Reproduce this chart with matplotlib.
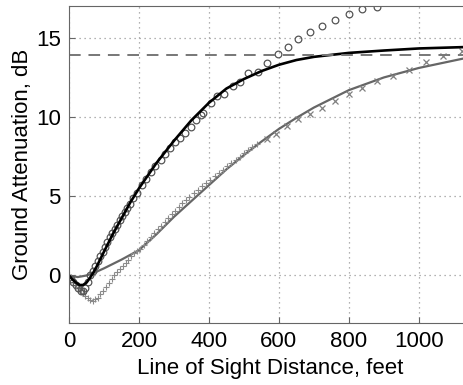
import numpy as np
import matplotlib
matplotlib.use('Agg')
import matplotlib.pyplot as plt

plt.rcParams['font.family'] = ['Liberation Sans', 'DejaVu Sans']

# measured data, circles (upper set)
circ_x = [5, 12, 19, 26, 33, 40, 47, 54, 61, 68, 75, 82, 89, 96, 103, 110,
          117, 124, 131, 138, 145, 152, 159, 166, 173, 184, 195, 210, 220,
          233, 247, 262, 275, 289, 303, 317, 331, 348, 363, 376, 384, 405,
          422, 443, 469, 490, 512, 540, 565, 597, 627, 656, 690, 723, 761,
          800, 838, 880]
circ_y = [-0.2, -0.4, -0.6, -0.8, -0.95, -1.0, -0.8, -0.4, 0.0, 0.3, 0.6,
          0.9, 1.2, 1.5, 1.8, 2.1, 2.4, 2.7, 2.95, 3.2, 3.5, 3.75, 4.0, 4.25,
          4.5, 4.92, 5.18, 5.73, 6.09, 6.52, 6.88, 7.3, 7.64, 8.07, 8.41, 8.7,
          9.0, 9.38, 9.8, 10.1, 10.27, 10.9, 11.3, 11.46, 11.97, 12.2, 12.8,
          12.85, 13.4, 13.95, 14.44, 14.9, 15.39, 15.77, 16.13, 16.5, 16.8,
          16.95]

# measured data, lower set (dense '+' then sparse 'x')
plus_x = [5, 12, 19, 26, 33, 40, 47, 54, 61, 68, 75, 82, 90, 98, 106, 114,
          122, 130, 138, 146, 154, 162, 170, 178, 186, 194, 204, 214, 224,
          234, 244, 254, 264, 274, 284, 294, 304, 314, 324, 334, 344, 356,
          368, 380, 392, 404, 416, 428, 440, 452, 464, 476, 488, 500, 512,
          524, 536]
plus_y = [-0.1, -0.3, -0.5, -0.7, -0.9, -1.1, -1.3, -1.45, -1.55, -1.6, -1.5,
          -1.4, -1.2, -1.0, -0.75, -0.5, -0.25, 0.0, 0.2, 0.4, 0.6, 0.8, 1.0,
          1.2, 1.4, 1.55, 1.7, 1.95, 2.2, 2.45, 2.7, 2.92, 3.15, 3.4, 3.63,
          3.87, 4.1, 4.33, 4.55, 4.78, 4.98, 5.2, 5.42, 5.63, 5.84, 6.05,
          6.26, 6.47, 6.68, 6.89, 7.1, 7.3, 7.5, 7.7, 7.9, 8.1, 8.3]
cross_x = [565, 593, 624, 655, 688, 722, 760, 800, 837, 881, 925, 972, 1019,
           1070, 1122]
cross_y = [8.6, 8.96, 9.43, 9.85, 10.2, 10.6, 11.04, 11.44, 11.82, 12.26,
           12.6, 13.0, 13.47, 13.85, 14.15]

# model curves
model1_x = [0, 10, 20, 30, 40, 50, 60, 70, 80, 90, 100, 125, 150, 175, 200,
            250, 300, 350, 400, 450, 500, 550, 600, 650, 700, 800, 900, 1000,
            1150]
model1_y = [0, -0.25, -0.45, -0.6, -0.6, -0.45, -0.15, 0.2, 0.6, 1.05, 1.5,
            2.6, 3.6, 4.6, 5.5, 7.1, 8.5, 9.8, 10.9, 11.8, 12.4, 12.9, 13.3,
            13.6, 13.8, 14.05, 14.2, 14.33, 14.43]
model2_x = [0, 25, 50, 75, 100, 150, 200, 250, 300, 350, 400, 450, 500, 550,
            600, 650, 700, 800, 900, 1000, 1150]
model2_y = [0, -0.1, 0, 0.2, 0.45, 1.0, 1.6, 2.6, 3.7, 4.7, 5.7, 6.7, 7.6,
            8.45, 9.25, 9.95, 10.6, 11.7, 12.5, 13.1, 13.8]
limit_y = 13.9

fig = plt.figure(figsize=(4.63, 3.85), dpi=100)
ax = fig.add_axes([0.149, 0.161, 0.869, 0.823])

ax.plot(model2_x, model2_y, color='#666666', linewidth=1.6)
ax.plot(plus_x, plus_y, linestyle='none', marker='+', markersize=4.5,
        markeredgewidth=0.8, color='#8a8a8a')
ax.plot(cross_x, cross_y, linestyle='none', marker='x', markersize=4.5,
        markeredgewidth=0.9, color='#808080')
ax.plot(circ_x, circ_y, linestyle='none', marker='o', markersize=4.8,
        markerfacecolor='none', markeredgewidth=0.9, markeredgecolor='#555555')
ax.plot(model1_x, model1_y, color='black', linewidth=1.9)
ax.axhline(limit_y, color='#777777', linewidth=1.4, linestyle=(0, (6, 4)))

ax.set_xlim(0, 1150)
ax.set_ylim(-3, 17)
ax.set_xticks(np.arange(0, 1001, 200))
ax.set_yticks([0, 5, 10, 15])
ax.grid(True, linestyle=(0, (1, 3)), color='#999999', linewidth=0.9)
ax.tick_params(direction='in', length=4, labelsize=16, color='#666666',
               pad=6)
for s in ax.spines.values():
    s.set_color('#666666')
ax.set_xlabel('Line of Sight Distance, feet', fontsize=16, labelpad=4)
ax.set_ylabel('Ground Attenuation, dB', fontsize=16, labelpad=2)

fig.savefig('out.png', dpi=100)
